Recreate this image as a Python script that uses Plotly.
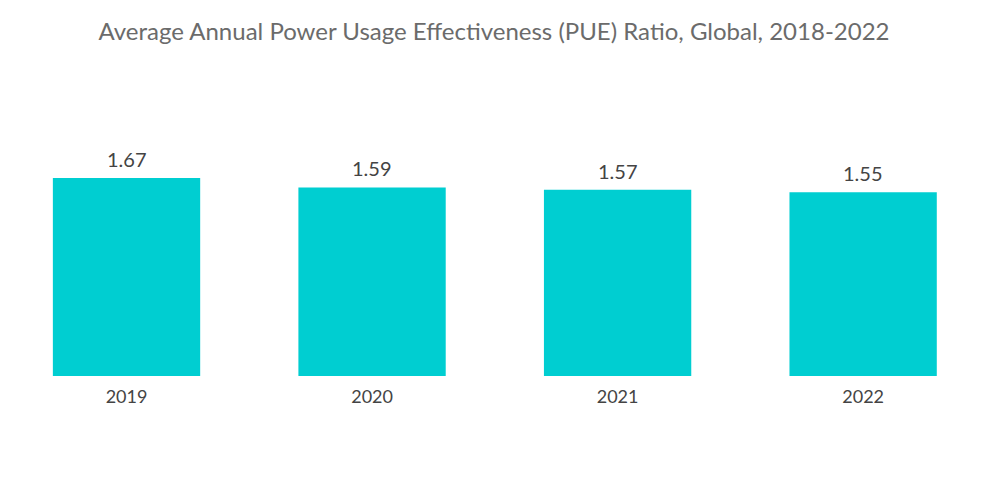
import plotly.graph_objects as go

years = ["2019", "2020", "2021", "2022"]
pue = [1.67, 1.59, 1.57, 1.55]

fig = go.Figure(go.Bar(
    x=years, y=pue,
    marker=dict(color="#00CED1", line=dict(width=0)),
    hoverinfo="x+y",
))

for i, v in enumerate(pue):
    fig.add_annotation(x=i, y=v, text=f"{v:.2f}", showarrow=False,
                       xref="x", yref="y",
                       yanchor="bottom", yshift=5,
                       font=dict(size=20, color="#444444", family="Lato"))

fig.update_layout(
    width=1000, height=504,
    paper_bgcolor="white", plot_bgcolor="white",
    margin=dict(l=0, r=0, t=80, b=136),
    title=dict(text="Average Annual Power Usage Effectiveness (PUE) Ratio, Global, 2018-2022",
               x=0.486, xanchor="center", y=0.954, yanchor="middle",
               font=dict(size=24, color="#6b6b6b", family="Lato")),
    bargap=0.4,
    showlegend=False,
    font=dict(family="Lato"),
)
fig.update_xaxes(type="category", showgrid=False, showline=False, ticks="",
                 range=[-0.4827, 3.59], ticklabelstandoff=8,
                 tickfont=dict(size=18, color="#444444", family="Lato"))
fig.update_yaxes(visible=False, range=[0, 2.428], showgrid=False, zeroline=False)

fig.write_html("out.html")
